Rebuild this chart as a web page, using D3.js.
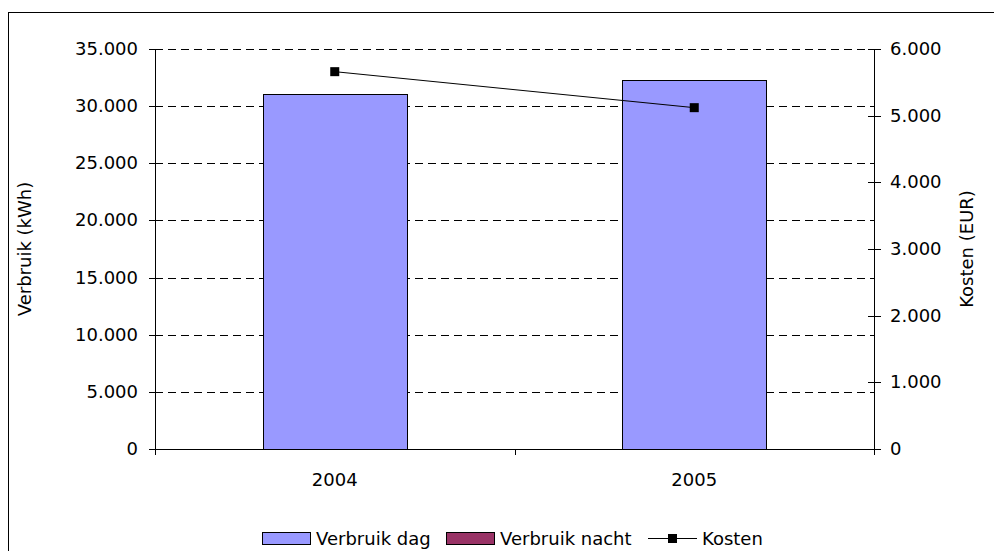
<!DOCTYPE html>
<html lang="nl">
<head>
    <script src="https://cdn.jsdelivr.net/npm/d3@7"></script>
    <style>
        body { margin: 0; background: #fff; }
        text { font-family: "DejaVu Sans", sans-serif; font-size: 18px; fill: #000; }
    </style>
</head>
<body>
<div id="chart"></div>
<script>
    // data
    var jaren = ["2004", "2005"]
    var verbruikDag = [31100, 32300]
    var verbruikNacht = [0, 0]
    var kosten = [5660, 5120]
    var leftTicks = [0, 5000, 10000, 15000, 20000, 25000, 30000, 35000]
    var rightTicks = [0, 1000, 2000, 3000, 4000, 5000, 6000]

    var width = 994,
        height = 551,
        pL = 155, pR = 874, pT = 49, pB = 449

    var fmt = function (v) { return v === 0 ? "0" : d3.format(",")(v).replace(/,/g, ".") }

    var svg = d3.select("#chart").append("svg")
        .attr("width", width)
        .attr("height", height)

    // outer frame
    svg.append("rect")
        .attr("x", 8.5).attr("y", 12.5)
        .attr("width", 1000).attr("height", 600)
        .attr("fill", "none").attr("stroke", "#000")

    var x = d3.scaleBand().domain(jaren).range([pL, pR])
    var yL = d3.scaleLinear().domain([0, 35000]).range([pB, pT])
    var yR = d3.scaleLinear().domain([0, 6000]).range([pB, pT])

    // grid
    svg.append("g").selectAll("line")
        .data(leftTicks.filter(function (d) { return d > 0 }))
        .enter().append("line")
        .attr("x1", pL).attr("x2", pR)
        .attr("y1", function (d) { return Math.round(yL(d)) + 0.5 })
        .attr("y2", function (d) { return Math.round(yL(d)) + 0.5 })
        .attr("stroke", "#000")
        .attr("stroke-dasharray", "8,5")

    // bars (stacked)
    var barW = x.bandwidth() * 0.4
    var g = svg.append("g")
    g.selectAll(".dag").data(jaren).enter().append("rect")
        .attr("x", function (d) { return Math.round(x(d) + (x.bandwidth() - barW) / 2) + 0.5 })
        .attr("y", function (d, i) { return Math.round(yL(verbruikDag[i])) + 0.5 })
        .attr("width", Math.round(barW))
        .attr("height", function (d, i) { return Math.round(pB - yL(verbruikDag[i])) })
        .attr("fill", "#9999ff").attr("stroke", "#000")
    g.selectAll(".nacht").data(jaren).enter().append("rect")
        .attr("x", function (d) { return Math.round(x(d) + (x.bandwidth() - barW) / 2) + 0.5 })
        .attr("y", function (d, i) { return yL(verbruikDag[i] + verbruikNacht[i]) })
        .attr("width", Math.round(barW))
        .attr("height", function (d, i) { return yL(verbruikDag[i]) - yL(verbruikDag[i] + verbruikNacht[i]) })
        .attr("fill", "#993366")

    // left axis
    var la = svg.append("g")
    la.append("line").attr("x1", pL + 0.5).attr("x2", pL + 0.5)
        .attr("y1", pT).attr("y2", pB).attr("stroke", "#000")
    la.selectAll("line.t").data(leftTicks).enter().append("line")
        .attr("x1", pL - 6).attr("x2", pL + 1)
        .attr("y1", function (d) { return Math.round(yL(d)) + 0.5 })
        .attr("y2", function (d) { return Math.round(yL(d)) + 0.5 })
        .attr("stroke", "#000")
    la.selectAll("text").data(leftTicks).enter().append("text")
        .attr("x", 138).attr("y", function (d) { return yL(d) + 6 })
        .attr("text-anchor", "end")
        .text(fmt)

    // right axis
    var ra = svg.append("g")
    ra.append("line").attr("x1", pR + 0.5).attr("x2", pR + 0.5)
        .attr("y1", pT).attr("y2", pB).attr("stroke", "#000")
    ra.selectAll("line.t").data(rightTicks).enter().append("line")
        .attr("x1", pR - 6).attr("x2", pR + 7)
        .attr("y1", function (d) { return Math.round(yR(d)) + 0.5 })
        .attr("y2", function (d) { return Math.round(yR(d)) + 0.5 })
        .attr("stroke", "#000")
    ra.selectAll("text").data(rightTicks).enter().append("text")
        .attr("x", 890).attr("y", function (d) { return yR(d) + 6 })
        .text(fmt)

    // x axis
    var xa = svg.append("g")
    xa.append("line").attr("x1", pL).attr("x2", pR + 6)
        .attr("y1", pB + 0.5).attr("y2", pB + 0.5).attr("stroke", "#000")
    var bounds = [pL, pL + x.bandwidth(), pR]
    xa.selectAll("line.t").data(bounds).enter().append("line")
        .attr("x1", function (d) { return Math.round(d) + 0.5 })
        .attr("x2", function (d) { return Math.round(d) + 0.5 })
        .attr("y1", pB).attr("y2", pB + 6).attr("stroke", "#000")
    xa.selectAll("text").data(jaren).enter().append("text")
        .attr("x", function (d) { return x(d) + x.bandwidth() / 2 })
        .attr("y", 486).attr("text-anchor", "middle")
        .text(function (d) { return d })

    // kosten line
    var line = d3.line()
        .x(function (d, i) { return x(jaren[i]) + x.bandwidth() / 2 })
        .y(function (d) { return yR(d) })
    svg.append("path").datum(kosten)
        .attr("d", line).attr("fill", "none").attr("stroke", "#000")
    svg.selectAll(".m").data(kosten).enter().append("rect")
        .attr("x", function (d, i) { return x(jaren[i]) + x.bandwidth() / 2 - 4.5 })
        .attr("y", function (d) { return yR(d) - 4.5 })
        .attr("width", 9).attr("height", 9).attr("fill", "#000")

    // axis titles
    svg.append("text")
        .attr("transform", "translate(31," + (pT + pB) / 2 + ") rotate(-90)")
        .attr("text-anchor", "middle").text("Verbruik (kWh)")
    svg.append("text")
        .attr("transform", "translate(973," + (pT + pB) / 2 + ") rotate(-90)")
        .attr("text-anchor", "middle").text("Kosten (EUR)")

    // legend
    var lg = svg.append("g")
    lg.append("rect").attr("x", 262.5).attr("y", 532.5).attr("width", 48).attr("height", 12)
        .attr("fill", "#9999ff").attr("stroke", "#000")
    lg.append("text").attr("x", 316).attr("y", 545).text("Verbruik dag")
    lg.append("rect").attr("x", 446.5).attr("y", 532.5).attr("width", 48).attr("height", 12)
        .attr("fill", "#993366").attr("stroke", "#000")
    lg.append("text").attr("x", 500).attr("y", 545).text("Verbruik nacht")
    lg.append("line").attr("x1", 648).attr("x2", 697).attr("y1", 538.5).attr("y2", 538.5)
        .attr("stroke", "#000")
    lg.append("rect").attr("x", 668).attr("y", 534).attr("width", 9).attr("height", 9).attr("fill", "#000")
    lg.append("text").attr("x", 702).attr("y", 545).text("Kosten")
</script>
</body>
</html>
